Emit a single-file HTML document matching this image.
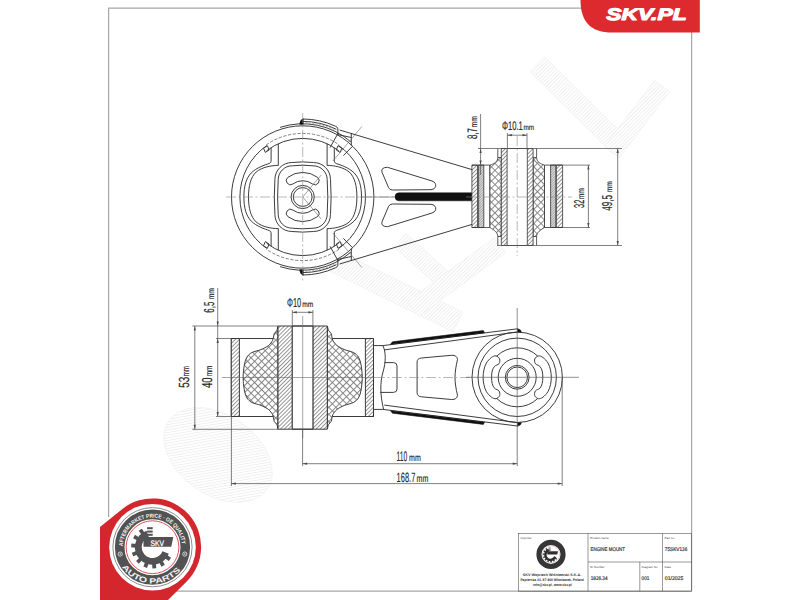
<!DOCTYPE html>
<html><head><meta charset="utf-8">
<style>
html,body{margin:0;padding:0;background:#fff;width:800px;height:600px;overflow:hidden}
svg{display:block}
text{font-family:"Liberation Sans",sans-serif;text-rendering:geometricPrecision}
</style></head><body>
<svg width="800" height="600" viewBox="0 0 800 600">
<defs>
  <pattern id="hatch" patternUnits="userSpaceOnUse" width="2.8" height="2.8" patternTransform="rotate(45)">
    <rect width="2.8" height="2.8" fill="#fff"/>
    <line x1="0.5" y1="0" x2="0.5" y2="2.8" stroke="#7a7a7a" stroke-width="0.8"/>
  </pattern>
  <pattern id="xhatch" patternUnits="userSpaceOnUse" width="5.0" height="5.0" patternTransform="rotate(45)">
    <rect width="5.0" height="5.0" fill="#fff"/>
    <line x1="0.5" y1="0" x2="0.5" y2="5.0" stroke="#7e7e7e" stroke-width="0.9"/>
    <line x1="0" y1="0.5" x2="5.0" y2="0.5" stroke="#7e7e7e" stroke-width="0.9"/>
  </pattern>
  <pattern id="dense" patternUnits="userSpaceOnUse" width="1.8" height="1.8" patternTransform="rotate(45)">
    <rect width="1.8" height="1.8" fill="#dcdcdc"/>
    <line x1="0.4" y1="0" x2="0.4" y2="1.8" stroke="#8a8a8a" stroke-width="0.6"/>
  </pattern>
  <pattern id="wm" patternUnits="userSpaceOnUse" width="2.6" height="2.6" patternTransform="rotate(45)">
    <rect width="2.6" height="2.6" fill="#fff"/>
    <line x1="0.5" y1="0" x2="0.5" y2="2.6" stroke="#ececec" stroke-width="0.8"/>
  </pattern>
</defs>

<g fill="url(#wm)" stroke="#f3f3f3" stroke-width="0.8">
<path d="M529.6,71.5 L612.6,153.5 L627.4,138.5 L544.4,56.5 Z"/>
<path d="M619.6,157.7 L669.6,91.7 L654.4,80.3 L604.4,146.3 Z"/>
<path d="M331.1,271.9 L453.1,331.9 L462.9,312.1 L340.9,252.1 Z"/>
<path d="M394.0,246.7 L446.0,293.7 L458.0,280.3 L406.0,233.3 Z"/>
<path d="M418.6,316.7 L505.6,252.7 L494.4,237.3 L407.4,301.3 Z"/>
<ellipse cx="218" cy="455" rx="60" ry="40" transform="rotate(35 218 455)"/>
</g>
<g fill="none" stroke="#a6a6a6" stroke-width="1.2">
  <polyline points="582,8.2 108.6,8.2 108.6,517"/>
  <line x1="691.6" y1="32" x2="691.6" y2="591.2"/>
  <line x1="176" y1="591.2" x2="691.6" y2="591.2"/>
</g>
<path d="M580.5,0 C580.5,22 591,32.5 612,32.5 L699.8,32.5 L699.8,0 Z" fill="#dc2a2f"/>
<text x="606.2" y="20.4" font-size="16.6" font-weight="bold" font-style="italic" fill="#fff" stroke="#fff" stroke-width="1.1" stroke-linejoin="round" textLength="80.5" lengthAdjust="spacingAndGlyphs">SKV.PL</text>
<g fill="none" stroke="#333" stroke-width="0.95" stroke-linejoin="round">
<g transform="translate(302.7,197.0)">
<circle r="71.2"/>
<path d="M36.02,-51.44 A62.8,62.8 0 0 1 36.02,51.44"/>
<path d="M-36.02,51.44 A62.8,62.8 0 0 1 -36.02,-51.44"/>
<path d="M-36.48,-52.10 A63.6,63.6 0 0 1 36.48,-52.10" stroke-dasharray="3.2 1.6" stroke="#555" stroke-width="0.75"/>
<path d="M36.48,52.10 A63.6,63.6 0 0 1 -36.48,52.10" stroke-dasharray="3.2 1.6" stroke="#555" stroke-width="0.75"/>
<g transform="scale(1,1)"><path d="M-58.8,0 C-58.8,-11 -56.5,-19 -51.5,-24 C-46,-29.5 -38,-32 -33.5,-33.5 C-32,-34 -31.6,-35 -31.6,-37 L-31.6,-49.4"/><path d="M-54.2,0 C-54.2,-11 -52,-20 -46.5,-25 C-40.5,-30 -31,-31.6 -24.4,-31.6 L-24.4,-53.3"/><path d="M-39.2,-48.8 L-35.3,-51.3 L-33.6,-47 L-37.4,-44.6 Z"/></g>
<g transform="scale(-1,1)"><path d="M-58.8,0 C-58.8,-11 -56.5,-19 -51.5,-24 C-46,-29.5 -38,-32 -33.5,-33.5 C-32,-34 -31.6,-35 -31.6,-37 L-31.6,-49.4"/><path d="M-54.2,0 C-54.2,-11 -52,-20 -46.5,-25 C-40.5,-30 -31,-31.6 -24.4,-31.6 L-24.4,-53.3"/><path d="M-39.2,-48.8 L-35.3,-51.3 L-33.6,-47 L-37.4,-44.6 Z"/></g>
<g transform="scale(1,-1)"><path d="M-58.8,0 C-58.8,-11 -56.5,-19 -51.5,-24 C-46,-29.5 -38,-32 -33.5,-33.5 C-32,-34 -31.6,-35 -31.6,-37 L-31.6,-49.4"/><path d="M-54.2,0 C-54.2,-11 -52,-20 -46.5,-25 C-40.5,-30 -31,-31.6 -24.4,-31.6 L-24.4,-53.3"/><path d="M-39.2,-48.8 L-35.3,-51.3 L-33.6,-47 L-37.4,-44.6 Z"/></g>
<g transform="scale(-1,-1)"><path d="M-58.8,0 C-58.8,-11 -56.5,-19 -51.5,-24 C-46,-29.5 -38,-32 -33.5,-33.5 C-32,-34 -31.6,-35 -31.6,-37 L-31.6,-49.4"/><path d="M-54.2,0 C-54.2,-11 -52,-20 -46.5,-25 C-40.5,-30 -31,-31.6 -24.4,-31.6 L-24.4,-53.3"/><path d="M-39.2,-48.8 L-35.3,-51.3 L-33.6,-47 L-37.4,-44.6 Z"/></g>
<path d="M-36.08,-46.18 A58.6,58.6 0 0 1 36.08,-46.18"/>
<path d="M36.08,46.18 A58.6,58.6 0 0 1 -36.08,46.18"/>
<g transform="scale(1,1)"><path d="M-22.62,-69.62 A73.2,73.2 0 0 1 48.02,-55.24"/><path d="M0.00,-75.60 A75.6,75.6 0 0 1 33.73,-67.66"/><path d="M2.60,-74.35 A74.4,74.4 0 0 1 32.61,-66.87" stroke="#999" stroke-width="0.8" stroke-dasharray="2 1.5"/><path d="M0.00,-78.00 A78,78 0 0 1 32.96,-70.69 Q34.96,-69.89 35.16,-68.19 L35.16,-62.69"/><path d="M48.6,-64 L48.6,-51.5"/><path d="M34.6,-62.5 L48.6,-59.5"/><path d="M-3,-72.8 Q-2.5,-77.5 0.5,-78.2 L0.5,-72.8 Z" fill="#111" stroke="#111" stroke-width="0.6"/><line x1="27.39" y1="-49.42" x2="35.49" y2="-64.02"/><line x1="40.65" y1="-41.37" x2="49.90" y2="-50.78"/><line x1="30.21" y1="-36.00" x2="59.14" y2="-70.48" stroke="#666" stroke-width="0.6"/></g>
<g transform="scale(1,-1)"><path d="M-22.62,-69.62 A73.2,73.2 0 0 1 48.02,-55.24"/><path d="M0.00,-75.60 A75.6,75.6 0 0 1 33.73,-67.66"/><path d="M2.60,-74.35 A74.4,74.4 0 0 1 32.61,-66.87" stroke="#999" stroke-width="0.8" stroke-dasharray="2 1.5"/><path d="M0.00,-78.00 A78,78 0 0 1 32.96,-70.69 Q34.96,-69.89 35.16,-68.19 L35.16,-62.69"/><path d="M48.6,-64 L48.6,-51.5"/><path d="M34.6,-62.5 L48.6,-59.5"/><path d="M-3,-72.8 Q-2.5,-77.5 0.5,-78.2 L0.5,-72.8 Z" fill="#111" stroke="#111" stroke-width="0.6"/><line x1="27.39" y1="-49.42" x2="35.49" y2="-64.02"/><line x1="40.65" y1="-41.37" x2="49.90" y2="-50.78"/><line x1="30.21" y1="-36.00" x2="59.14" y2="-70.48" stroke="#666" stroke-width="0.6"/></g>
<path d="M-10.8,-34.5 Q0,-35.7 10.8,-34.5 C20.150000000000002,-34.5 27.8,-26.85 27.8,-17.5 Q29.0,0 27.8,17.5 C27.8,26.85 20.150000000000002,34.5 10.8,34.5 Q0,35.7 -10.8,34.5 C-20.150000000000002,34.5 -27.8,26.85 -27.8,17.5 Q-29.0,0 -27.8,-17.5 C-27.8,-26.85 -20.150000000000002,-34.5 -10.8,-34.5 Z"/>
<path d="M-10.5,-31.2 Q0,-32.4 10.5,-31.2 C18.200000000000003,-31.2 24.5,-24.9 24.5,-17.2 Q25.7,0 24.5,17.2 C24.5,24.9 18.200000000000003,31.2 10.5,31.2 Q0,32.4 -10.5,31.2 C-18.200000000000003,31.2 -24.5,24.9 -24.5,17.2 Q-25.7,0 -24.5,-17.2 C-24.5,-24.9 -18.200000000000003,-31.2 -10.5,-31.2 Z"/>
<path d="M-14.80,-19.65 A24.6,24.6 0 0 1 14.80,-19.65 A4.15,4.15 0 0 1 9.81,-13.02 A16.3,16.3 0 0 0 -9.81,-13.02 A4.15,4.15 0 0 1 -14.80,-19.65 Z"/>
<path d="M14.80,19.65 A24.6,24.6 0 0 1 -14.80,19.65 A4.15,4.15 0 0 1 -9.81,13.02 A16.3,16.3 0 0 0 9.81,13.02 A4.15,4.15 0 0 1 14.80,19.65 Z"/>
<circle r="11.6"/><circle r="9.4"/>
<line x1="0" y1="0" x2="18.5" y2="-22" stroke="#666" stroke-width="0.6"/>
<line x1="0" y1="0" x2="18.5" y2="22" stroke="#666" stroke-width="0.6"/>
</g>
<line x1="339.6" y1="130" x2="472" y2="169.6"/>
<line x1="339.6" y1="264" x2="472" y2="224.4"/>
<path d="M387.5,167.3 L432,181 Q436.5,182.6 435.6,186.6 Q434.6,189.6 431,189.7 L392.5,190 Q389.6,190 388.5,187.5 L382,172.2 Q380.6,167.4 387.5,167.3 Z"/>
<path d="M387.5,167.3 L432,181 Q436.5,182.6 435.6,186.6 Q434.6,189.6 431,189.7 L392.5,190 Q389.6,190 388.5,187.5 L382,172.2 Q380.6,167.4 387.5,167.3 Z" transform="translate(0,394) scale(1,-1)"/>
<line x1="360" y1="197" x2="396" y2="197" stroke="#777" stroke-width="0.7"/>
<path d="M399,192.8 L472,192.8 L472,200.8 L399,200.8 A4,4 0 0 1 399,192.8 Z" fill="#111" stroke="#111" stroke-width="0.5"/>
<g stroke-width="0.8">
<rect x="471.90000000000003" y="165.1" width="5.6" height="62.4" fill="url(#hatch)"/>
<rect x="478.6" y="165.1" width="5.2" height="62.4" fill="url(#dense)"/>
<rect x="550.6" y="165.1" width="5.2" height="62.4" fill="url(#dense)"/>
<rect x="556.4000000000001" y="165.1" width="6.2" height="62.4" fill="url(#hatch)"/>
<line x1="471.90000000000003" y1="165.1" x2="489.90000000000003" y2="165.1"/>
<line x1="489.90000000000003" y1="165.1" x2="489.90000000000003" y2="227.5"/><line x1="544.5" y1="165.1" x2="544.5" y2="227.5"/>
<line x1="471.90000000000003" y1="227.5" x2="489.90000000000003" y2="227.5"/>
<line x1="544.5" y1="165.1" x2="562.6" y2="165.1"/>
<line x1="544.5" y1="227.5" x2="562.6" y2="227.5"/>
<path d="M489.90000000000003,165.1 C494.20000000000005,164 497.80000000000007,161.5 497.80000000000007,157.5 L501.30000000000007,157.5 L501.30000000000007,236.5 L497.80000000000007,236.5 C497.80000000000007,232.5 494.20000000000005,230 489.90000000000003,227.5 Z" fill="url(#xhatch)"/>
<path d="M497.80000000000007,157.5 L497.80000000000007,148.5 M497.80000000000007,236.5 L497.80000000000007,245.5" />
<path d="M544.5,165.1 C540.2,164 536.6,161.5 536.6,157.5 L533.1,157.5 L533.1,236.5 L536.6,236.5 C536.6,232.5 540.2,230 544.5,227.5 Z" fill="url(#xhatch)"/>
<path d="M536.6,157.5 L536.6,148.5 M536.6,236.5 L536.6,245.5" />
<rect x="501.30000000000007" y="148.5" width="5.8" height="97" fill="url(#hatch)"/>
<rect x="527.3000000000001" y="148.5" width="5.8" height="97" fill="url(#hatch)"/>
<line x1="507.1" y1="148.5" x2="527.3000000000001" y2="148.5"/>
<line x1="507.1" y1="245.5" x2="527.3000000000001" y2="245.5"/>
</g>
<rect x="231.3" y="338.5" width="142.2" height="78" />
<rect x="231.3" y="338.5" width="8.1" height="78" fill="url(#hatch)"/>
<rect x="365.4" y="338.5" width="8.1" height="78" fill="url(#hatch)"/>
<path d="M278.00,326.00 C277.80,326.75 277.42,329.25 276.80,330.50 C276.18,331.75 274.85,332.42 274.30,333.50 C273.75,334.58 273.80,335.83 273.50,337.00 C273.20,338.17 273.33,339.08 272.50,340.50 C271.67,341.92 270.42,343.98 268.50,345.50 C266.58,347.02 263.75,348.43 261.00,349.60 C258.25,350.77 254.33,351.27 252.00,352.50 C249.67,353.73 248.25,355.08 247.00,357.00 C245.75,358.92 245.12,361.25 244.50,364.00 C243.88,366.75 243.52,371.25 243.30,373.50 C243.08,375.75 243.22,376.83 243.20,377.50 C243.18,378.17 243.18,376.83 243.20,377.50 C243.22,378.17 243.08,379.25 243.30,381.50 C243.52,383.75 243.88,388.25 244.50,391.00 C245.12,393.75 245.75,396.08 247.00,398.00 C248.25,399.92 249.67,401.27 252.00,402.50 C254.33,403.73 258.25,404.23 261.00,405.40 C263.75,406.57 266.58,407.98 268.50,409.50 C270.42,411.02 271.67,413.08 272.50,414.50 C273.33,415.92 273.20,416.83 273.50,418.00 C273.80,419.17 273.75,420.42 274.30,421.50 C274.85,422.58 276.18,423.25 276.80,424.50 C277.42,425.75 277.80,428.25 278.00,429.00 Z" fill="url(#xhatch)"/>
<path d="M327.40,326.00 C327.60,326.75 327.98,329.25 328.60,330.50 C329.22,331.75 330.55,332.42 331.10,333.50 C331.65,334.58 331.60,335.83 331.90,337.00 C332.20,338.17 332.07,339.08 332.90,340.50 C333.73,341.92 334.98,343.98 336.90,345.50 C338.82,347.02 341.65,348.43 344.40,349.60 C347.15,350.77 351.07,351.27 353.40,352.50 C355.73,353.73 357.15,355.08 358.40,357.00 C359.65,358.92 360.28,361.25 360.90,364.00 C361.52,366.75 361.88,371.25 362.10,373.50 C362.32,375.75 362.18,376.83 362.20,377.50 C362.22,378.17 362.22,376.83 362.20,377.50 C362.18,378.17 362.32,379.25 362.10,381.50 C361.88,383.75 361.52,388.25 360.90,391.00 C360.28,393.75 359.65,396.08 358.40,398.00 C357.15,399.92 355.73,401.27 353.40,402.50 C351.07,403.73 347.15,404.23 344.40,405.40 C341.65,406.57 338.82,407.98 336.90,409.50 C334.98,411.02 333.73,413.08 332.90,414.50 C332.07,415.92 332.20,416.83 331.90,418.00 C331.60,419.17 331.65,420.42 331.10,421.50 C330.55,422.58 329.22,423.25 328.60,424.50 C327.98,425.75 327.60,428.25 327.40,429.00 Z" fill="url(#xhatch)"/>
<rect x="278" y="326" width="14.3" height="103.2" fill="url(#hatch)"/>
<rect x="312.9" y="326" width="14.4" height="103.2" fill="url(#hatch)"/>
<rect x="292.3" y="326" width="20.6" height="103.2" fill="#fff"/>
<line x1="292.3" y1="326" x2="312.9" y2="326"/><line x1="292.3" y1="429.2" x2="312.9" y2="429.2"/>
<path d="M373.5,345.6 L382.9,345.6 L517.5,328.8"/>
<path d="M373.5,409.4 L382.9,409.4 L517.5,426"/>
<path d="M384.3,349.9 L517.5,332"/>
<path d="M384.3,405.1 L517.5,422.6"/>
<path d="M390.5,344.3 L392.5,341.8 L483.3,330.6 L484.5,332.8 Z" fill="#111" stroke="#111" stroke-width="0.6"/>
<path d="M390.5,410.7 L392.5,413.2 L483.3,424.4 L484.5,422.2 Z" fill="#111" stroke="#111" stroke-width="0.6"/>
<path d="M517.5,328.6 L520.5,330 L521.5,332.3 L517.5,332.3 Z" fill="#111" stroke="#111" stroke-width="0.5"/>
<path d="M517.5,426.2 L520.5,424.8 L521.5,422.5 L517.5,422.5 Z" fill="#111" stroke="#111" stroke-width="0.5"/>
<path d="M382.9,345.6 C386,352 386,362 383,372 C380,382 380,395 383.6,409.4"/>
<path d="M384.6,362.6 L393.5,362.6 Q397,362.6 397,366 L397,389 Q397,392.4 393.5,392.4 L380.3,392.4"/>
<path d="M417.1,392.7 L417.1,362 Q417.1,358.5 421.3,358 L451.6,355.3 Q457,355 457.5,359.5 C456,366 455,372 455,377.4 C455,383 456,389 457.5,395.2 Q457,399.8 451.6,399.5 L421.3,396.8 Q417.1,396.3 417.1,392.7 Z"/>
<g transform="translate(517.2,377.3)">
<circle r="45.2"/>
<circle r="39.2"/>
<circle r="19.0"/>
<circle r="11.9"/>
<circle r="10.3"/>
<path d="M21.20,-21.40 C22.57,-21.63 24.20,-20.98 25.80,-19.80 C27.40,-18.62 29.55,-16.38 30.80,-14.30 C32.05,-12.22 32.75,-9.68 33.30,-7.30 C33.85,-4.92 34.10,-2.43 34.10,0.00 C34.10,2.43 33.85,4.92 33.30,7.30 C32.75,9.68 32.05,12.22 30.80,14.30 C29.55,16.38 27.40,18.62 25.80,19.80 C24.20,20.98 22.57,21.63 21.20,21.40 C19.83,21.17 18.10,19.70 17.60,18.40 C17.10,17.10 17.37,14.83 18.20,13.60 C19.03,12.37 21.47,12.22 22.60,11.00 C23.73,9.78 24.50,8.13 25.00,6.30 C25.50,4.47 25.60,2.10 25.60,0.00 C25.60,-2.10 25.50,-4.47 25.00,-6.30 C24.50,-8.13 23.73,-9.78 22.60,-11.00 C21.47,-12.22 19.03,-12.37 18.20,-13.60 C17.37,-14.83 17.10,-17.10 17.60,-18.40 C18.10,-19.70 19.83,-21.17 21.20,-21.40 Z"/>
<path d="M-21.20,-21.40 C-22.57,-21.63 -24.20,-20.98 -25.80,-19.80 C-27.40,-18.62 -29.55,-16.38 -30.80,-14.30 C-32.05,-12.22 -32.75,-9.68 -33.30,-7.30 C-33.85,-4.92 -34.10,-2.43 -34.10,0.00 C-34.10,2.43 -33.85,4.92 -33.30,7.30 C-32.75,9.68 -32.05,12.22 -30.80,14.30 C-29.55,16.38 -27.40,18.62 -25.80,19.80 C-24.20,20.98 -22.57,21.63 -21.20,21.40 C-19.83,21.17 -18.10,19.70 -17.60,18.40 C-17.10,17.10 -17.37,14.83 -18.20,13.60 C-19.03,12.37 -21.47,12.22 -22.60,11.00 C-23.73,9.78 -24.50,8.13 -25.00,6.30 C-25.50,4.47 -25.60,2.10 -25.60,0.00 C-25.60,-2.10 -25.50,-4.47 -25.00,-6.30 C-24.50,-8.13 -23.73,-9.78 -22.60,-11.00 C-21.47,-12.22 -19.03,-12.37 -18.20,-13.60 C-17.37,-14.83 -17.10,-17.10 -17.60,-18.40 C-18.10,-19.70 -19.83,-21.17 -21.20,-21.40 Z"/>
<path d="M-20.49,-21.22 A29.5,29.5 0 0 1 20.49,-21.22"/>
<path d="M20.49,21.22 A29.5,29.5 0 0 1 -20.49,21.22"/>
</g>
</g>
<g stroke="#8a8a8a" stroke-width="0.6" stroke-dasharray="10 2.5 2 2.5">
<line x1="226" y1="197" x2="394" y2="197"/>
<line x1="302.7" y1="113" x2="302.7" y2="281"/>
<line x1="517.2" y1="136" x2="517.2" y2="256"/>
<line x1="466" y1="197" x2="572" y2="197"/>
<line x1="375" y1="377.5" x2="472" y2="377.5"/>
</g>
<g stroke="#6a6a6a" stroke-width="0.6"><line x1="222" y1="377.5" x2="375" y2="377.5"/><line x1="302.7" y1="316" x2="302.7" y2="438"/></g>
<g stroke="#555" stroke-width="0.65"><line x1="466" y1="377.3" x2="579" y2="377.3"/><line x1="517.2" y1="308" x2="517.2" y2="426"/></g>
<g fill="none" stroke="#4a4a4a" stroke-width="0.7">
<line x1="478" y1="148.5" x2="622" y2="148.5"/>
<line x1="497" y1="245.5" x2="622" y2="245.5"/>
<line x1="562.6" y1="165.1" x2="590" y2="165.1"/>
<line x1="562.6" y1="227.5" x2="590" y2="227.5"/>
<line x1="480.6" y1="114" x2="480.6" y2="175"/>
<line x1="588.4" y1="165.1" x2="588.4" y2="227.5"/>
<line x1="617.7" y1="148.5" x2="617.7" y2="245.5"/>
<line x1="507.4" y1="133" x2="507.4" y2="148.5"/><line x1="527" y1="133" x2="527" y2="148.5"/>
<line x1="507.4" y1="135.2" x2="527" y2="135.2"/>
<line x1="192.3" y1="326" x2="278" y2="326"/>
<line x1="192.3" y1="429.3" x2="278" y2="429.3"/>
<line x1="216" y1="338.5" x2="231.3" y2="338.5"/>
<line x1="216" y1="416.5" x2="231.3" y2="416.5"/>
<line x1="217.7" y1="288" x2="217.7" y2="416.5"/>
<line x1="194.8" y1="326" x2="194.8" y2="429.3"/>
<line x1="292.3" y1="310" x2="292.3" y2="326"/><line x1="312.9" y1="310" x2="312.9" y2="326"/>
<line x1="292.3" y1="312.3" x2="312.9" y2="312.3"/>
<line x1="231.4" y1="416.5" x2="231.4" y2="486"/>
<line x1="302.6" y1="429.3" x2="302.6" y2="466"/>
<line x1="517.2" y1="426" x2="517.2" y2="466"/>
<line x1="562.2" y1="377.3" x2="562.2" y2="486"/>
<line x1="302.6" y1="463.7" x2="517.2" y2="463.7"/>
<line x1="231.4" y1="483.6" x2="562.2" y2="483.6"/>
</g>
<g fill="#4a4a4a" stroke="none">
<path d="M480.60,148.50 L481.70,153.00 L479.50,153.00 Z"/>
<path d="M480.60,165.10 L479.50,160.60 L481.70,160.60 Z"/>
<path d="M588.40,165.10 L589.50,169.60 L587.30,169.60 Z"/>
<path d="M588.40,227.50 L587.30,223.00 L589.50,223.00 Z"/>
<path d="M617.70,148.50 L618.80,153.00 L616.60,153.00 Z"/>
<path d="M617.70,245.50 L616.60,241.00 L618.80,241.00 Z"/>
<path d="M507.40,135.20 L511.90,134.10 L511.90,136.30 Z"/>
<path d="M527.00,135.20 L522.50,136.30 L522.50,134.10 Z"/>
<path d="M217.70,326.00 L216.60,321.50 L218.80,321.50 Z"/>
<path d="M217.70,338.50 L218.80,343.00 L216.60,343.00 Z"/>
<path d="M217.70,416.50 L216.60,412.00 L218.80,412.00 Z"/>
<path d="M194.80,326.00 L195.90,330.50 L193.70,330.50 Z"/>
<path d="M194.80,429.30 L193.70,424.80 L195.90,424.80 Z"/>
<path d="M292.30,312.30 L296.80,311.20 L296.80,313.40 Z"/>
<path d="M312.90,312.30 L308.40,313.40 L308.40,311.20 Z"/>
<path d="M302.60,463.70 L307.10,462.60 L307.10,464.80 Z"/>
<path d="M517.20,463.70 L512.70,464.80 L512.70,462.60 Z"/>
<path d="M231.40,483.60 L235.90,482.50 L235.90,484.70 Z"/>
<path d="M562.20,483.60 L557.70,484.70 L557.70,482.50 Z"/>
</g>
<g transform="translate(501.9,130) scale(0.6076,1)"><text x="0" y="0" font-size="12.54" fill="#2a2a2a" stroke="#2a2a2a" stroke-width="0.18">&#934;10.1</text></g><g transform="translate(523.4,130) scale(0.7999,1)"><text x="0" y="0" font-size="7.95" fill="#2a2a2a" stroke="#2a2a2a" stroke-width="0.18">mm</text></g>
<g transform="translate(287,307) scale(0.5766,1)"><text x="0" y="0" font-size="12.89" fill="#2a2a2a" stroke="#2a2a2a" stroke-width="0.18">&#934;10</text></g><g transform="translate(302.3,307) scale(0.8107,1)"><text x="0" y="0" font-size="8.14" fill="#2a2a2a" stroke="#2a2a2a" stroke-width="0.18">mm</text></g>
<g transform="translate(396.6,460.8) scale(0.4832,1)"><text x="0" y="0" font-size="13.90" fill="#2a2a2a" stroke="#2a2a2a" stroke-width="0.18">110</text></g><g transform="translate(409.1,460.8) scale(0.7131,1)"><text x="0" y="0" font-size="9.85" fill="#2a2a2a" stroke="#2a2a2a" stroke-width="0.18">mm</text></g>
<g transform="translate(396.6,482.1) scale(0.5550,1)"><text x="0" y="0" font-size="13.47" fill="#2a2a2a" stroke="#2a2a2a" stroke-width="0.18">168.7</text></g><g transform="translate(416.6,482.1) scale(0.6742,1)"><text x="0" y="0" font-size="10.42" fill="#2a2a2a" stroke="#2a2a2a" stroke-width="0.18">mm</text></g>
<g transform="translate(477.2,139.1) rotate(-90) scale(0.5806,1)"><text x="0" y="0" font-size="13.75" fill="#2a2a2a" stroke="#2a2a2a" stroke-width="0.18">8,7</text></g><g transform="translate(477.2,127.4) rotate(-90) scale(0.7527,1)"><text x="0" y="0" font-size="9.09" fill="#2a2a2a" stroke="#2a2a2a" stroke-width="0.18">mm</text></g>
<g transform="translate(584,208) rotate(-90) scale(0.5210,1)"><text x="0" y="0" font-size="14.33" fill="#2a2a2a" stroke="#2a2a2a" stroke-width="0.18">32</text></g><g transform="translate(584,199.3) rotate(-90) scale(0.7620,1)"><text x="0" y="0" font-size="8.90" fill="#2a2a2a" stroke="#2a2a2a" stroke-width="0.18">mm</text></g>
<g transform="translate(611.7,210.7) rotate(-90) scale(0.5631,1)"><text x="0" y="0" font-size="14.33" fill="#2a2a2a" stroke="#2a2a2a" stroke-width="0.18">49,5</text></g><g transform="translate(611.7,192.3) rotate(-90) scale(0.8139,1)"><text x="0" y="0" font-size="8.33" fill="#2a2a2a" stroke="#2a2a2a" stroke-width="0.18">mm</text></g>
<g transform="translate(214.3,312.7) rotate(-90) scale(0.5524,1)"><text x="0" y="0" font-size="14.33" fill="#2a2a2a" stroke="#2a2a2a" stroke-width="0.18">6,5</text></g><g transform="translate(214.3,299.3) rotate(-90) scale(0.7785,1)"><text x="0" y="0" font-size="8.71" fill="#2a2a2a" stroke="#2a2a2a" stroke-width="0.18">mm</text></g>
<g transform="translate(189.3,387.7) rotate(-90) scale(0.6704,1)"><text x="0" y="0" font-size="14.76" fill="#2a2a2a" stroke="#2a2a2a" stroke-width="0.18">53</text></g><g transform="translate(189.3,376.3) rotate(-90) scale(0.6529,1)"><text x="0" y="0" font-size="9.47" fill="#2a2a2a" stroke="#2a2a2a" stroke-width="0.18">mm</text></g>
<g transform="translate(212.1,388) rotate(-90) scale(0.6716,1)"><text x="0" y="0" font-size="14.33" fill="#2a2a2a" stroke="#2a2a2a" stroke-width="0.18">40</text></g><g transform="translate(212.1,376.3) rotate(-90) scale(0.7139,1)"><text x="0" y="0" font-size="9.00" fill="#2a2a2a" stroke="#2a2a2a" stroke-width="0.18">mm</text></g>
<g id="badge">
<path d="M100,600 L100,527 L122.1,509.2 A48.5,48.5 0 0 1 186.7,581.4 L168,600 Z" fill="#d3262d"/>
<circle cx="152.5" cy="547.2" r="43.3" fill="#fff"/>
<circle cx="152.5" cy="547.2" r="39.6" fill="none" stroke="#8a8c8e" stroke-width="1"/>
<circle cx="152.5" cy="547.2" r="32.8" fill="none" stroke="#525254" stroke-width="9.6"/>
<circle cx="152.5" cy="547.2" r="26.4" fill="none" stroke="#d3262d" stroke-width="0.8"/>
<path d="M168.82,553.79 A17.6,17.6 0 1 1 146.48,530.66 L148.81,537.05 A10.8,10.8 0 1 0 162.51,551.25 Z" fill="#525254"/>
<path d="M167.00,555.07 L171.07,557.84 L168.85,561.01 L164.86,558.13 Z" fill="#525254"/>
<path d="M162.31,560.46 L164.84,564.69 L161.48,566.63 L159.08,562.33 Z" fill="#525254"/>
<path d="M155.79,563.37 L156.29,568.26 L152.43,568.60 L152.07,563.69 Z" fill="#525254"/>
<path d="M148.65,563.24 L147.03,567.89 L143.39,566.56 L145.14,561.97 Z" fill="#525254"/>
<path d="M142.23,560.11 L138.80,563.64 L136.06,560.90 L139.59,557.47 Z" fill="#525254"/>
<path d="M137.73,554.56 L133.14,556.31 L131.81,552.67 L136.46,551.05 Z" fill="#525254"/>
<path d="M136.01,547.63 L131.10,547.27 L131.44,543.41 L136.33,543.91 Z" fill="#525254"/>
<path d="M137.37,540.62 L133.07,538.22 L135.01,534.86 L139.24,537.39 Z" fill="#525254"/>
<path d="M141.57,534.84 L138.69,530.85 L141.86,528.63 L144.63,532.70 Z" fill="#525254"/>
<rect x="147.10" y="527.20" width="5.60" height="2.00" fill="#525254"/>
<rect x="147.10" y="530.60" width="5.60" height="2.00" fill="#525254"/>
<rect x="147.10" y="533.80" width="5.60" height="2.00" fill="#525254"/>
<path d="M143.50,537.00 L173.30,537.00 L171.30,546.70 L143.50,546.70 Z" fill="#525254"/>
<text x="150.5" y="546.0" font-size="8" fill="#fff" stroke="#fff" stroke-width="0.25" textLength="13.5" lengthAdjust="spacingAndGlyphs">SKV</text>
<path id="topArc" d="M122.82,546.16 A29.7,29.7 0 0 1 182.18,546.16" fill="none"/>
<text font-size="5.6" font-weight="bold" fill="#f4f4f4"><textPath href="#topArc" textLength="89" lengthAdjust="spacingAndGlyphs">AFTERMARKET PRICE · OE QUALITY</textPath></text>
<path id="botArc" d="M122.06,566.97 A36.3,36.3 0 0 0 183.62,565.90" fill="none"/>
<text font-size="7.6" font-weight="bold" fill="#f2f2f2"><textPath href="#botArc" textLength="68" lengthAdjust="spacingAndGlyphs">AUTO PARTS</textPath></text>
<circle cx="120.22" cy="554.06" r="2.1" fill="none" stroke="#eee" stroke-width="0.8"/><circle cx="120.22" cy="554.06" r="0.7" fill="#eee"/>
<circle cx="184.78" cy="554.06" r="2.1" fill="none" stroke="#eee" stroke-width="0.8"/><circle cx="184.78" cy="554.06" r="0.7" fill="#eee"/>
</g>
<g fill="none" stroke="#555" stroke-width="0.6">
<rect x="518.5" y="533.5" width="173.1" height="57.7"/>
<line x1="588" y1="533.5" x2="588" y2="591.2"/>
<line x1="662.5" y1="533.5" x2="662.5" y2="591.2"/>
<line x1="639.8" y1="562" x2="639.8" y2="591.2"/>
<line x1="588" y1="562" x2="691.6" y2="562"/>
</g>
<g fill="#444">
<text x="520.5" y="538.8" font-size="3">Importer</text>
<text x="590" y="538.8" font-size="3">Product name</text>
<text x="664.5" y="538.8" font-size="3">Part no</text>
<text x="590" y="567.5" font-size="3">ID Number</text>
<text x="641.5" y="567.5" font-size="3">Diagram No</text>
<text x="664.5" y="567.5" font-size="3">Date</text>
<text x="590.5" y="551.3" font-size="5.4" fill="#3a3a3a" stroke="#3a3a3a" stroke-width="0.2" textLength="34.5" lengthAdjust="spacingAndGlyphs">ENGINE MOUNT</text>
<text x="664.8" y="551.3" font-size="5.4" fill="#3a3a3a" stroke="#3a3a3a" stroke-width="0.2" textLength="22.5" lengthAdjust="spacingAndGlyphs">75SKV136</text>
<text x="590.8" y="580.4" font-size="5.4" fill="#3a3a3a" stroke="#3a3a3a" stroke-width="0.2" textLength="16.7" lengthAdjust="spacingAndGlyphs">1826.34</text>
<text x="641.6" y="580.4" font-size="5.4" fill="#3a3a3a" stroke="#3a3a3a" stroke-width="0.2" textLength="7.7" lengthAdjust="spacingAndGlyphs">001</text>
<text x="664.8" y="580.4" font-size="5.4" fill="#3a3a3a" stroke="#3a3a3a" stroke-width="0.2" textLength="18.5" lengthAdjust="spacingAndGlyphs">01/2025</text>
<text x="522.8" y="575.9" font-size="3.6" font-weight="bold" fill="#333" textLength="58.5" lengthAdjust="spacingAndGlyphs">SKV Wojciech Wiśniewski S.K.A.</text>
<text x="520.4" y="581.1" font-size="3.6" font-weight="bold" fill="#333" textLength="63.4" lengthAdjust="spacingAndGlyphs">Papierska 43, 87-800 Włocławek, Poland</text>
<text x="533" y="586.3" font-size="3.6" font-weight="bold" fill="#333" textLength="38.7" lengthAdjust="spacingAndGlyphs">info@skv.pl, www.skv.pl</text>
</g>
<circle cx="551" cy="554.4" r="12.05" fill="#fff" stroke="#363636" stroke-width="5.1"/>
<circle cx="551" cy="554.4" r="8.6" fill="none" stroke="#c9a0a8" stroke-width="0.5"/>
<path d="M556.37,557.17 A6.336,6.336 0 1 1 548.33,548.85 L549.17,551.15 A3.888,3.888 0 1 0 554.10,556.26 Z" fill="#2f2f2f"/>
<path d="M555.72,557.63 L557.19,558.63 L556.38,559.77 L554.95,558.74 Z" fill="#2f2f2f"/>
<path d="M554.03,559.57 L554.94,561.10 L553.73,561.79 L552.87,560.25 Z" fill="#2f2f2f"/>
<path d="M551.68,560.62 L551.86,562.38 L550.47,562.50 L550.34,560.74 Z" fill="#2f2f2f"/>
<path d="M549.11,560.58 L548.53,562.25 L547.22,561.77 L547.85,560.12 Z" fill="#2f2f2f"/>
<path d="M546.80,559.45 L545.57,560.72 L544.58,559.73 L545.85,558.50 Z" fill="#2f2f2f"/>
<path d="M545.18,557.45 L543.53,558.08 L543.05,556.77 L544.72,556.19 Z" fill="#2f2f2f"/>
<path d="M544.56,554.96 L542.80,554.83 L542.92,553.44 L544.68,553.62 Z" fill="#2f2f2f"/>
<path d="M545.05,552.43 L543.51,551.57 L544.20,550.36 L545.73,551.27 Z" fill="#2f2f2f"/>
<path d="M546.56,550.35 L545.53,548.92 L546.67,548.11 L547.67,549.58 Z" fill="#2f2f2f"/>
<rect x="548.56" y="547.60" width="2.02" height="0.72" fill="#2f2f2f"/>
<rect x="548.56" y="548.82" width="2.02" height="0.72" fill="#2f2f2f"/>
<rect x="548.56" y="549.98" width="2.02" height="0.72" fill="#2f2f2f"/>
<path d="M547.26,551.13 L557.99,551.13 L557.27,554.62 L547.26,554.62 Z" fill="#2f2f2f"/>
</svg>
</body></html>
